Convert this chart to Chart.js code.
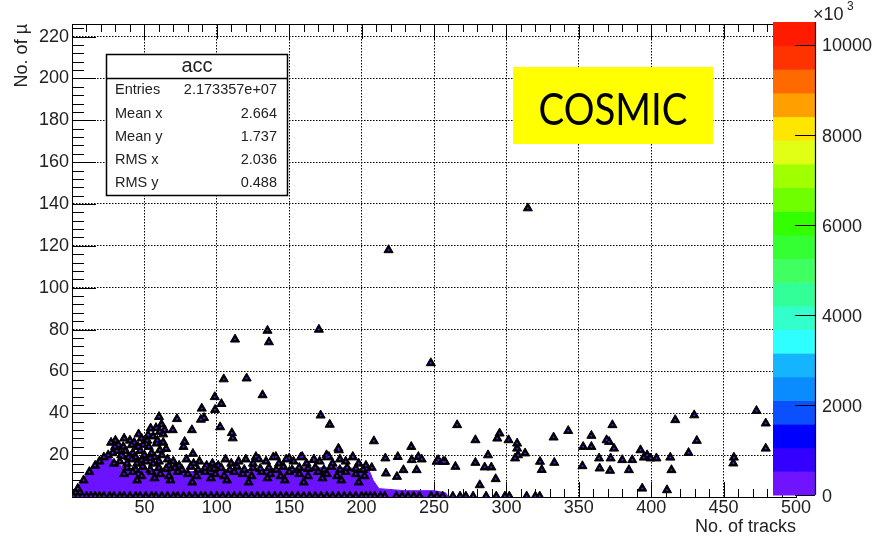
<!DOCTYPE html>
<html>
<head>
<meta charset="utf-8">
<script src="https://cdn.jsdelivr.net/npm/chart.js@4/dist/chart.umd.min.js"></script>
<style>html,body{margin:0;padding:0;background:#fff}</style>
</head>
<body>
<canvas id="c" width="891" height="541"></canvas>
<script>
/* acc: No. of mu vs No. of tracks, COSMIC */

const FONT = '"Liberation Sans", Arial, sans-serif';

// x / y tick settings
const xTicks = { min: 0, max: 500, step: 50 };
const yTicks = { min: 0, max: 226, step: 20 };

// occupied bins (triangle markers)
const trackX = [
    // isolated high ones
    314.8, 218.6, 247.8, 135.0, 136.0, 170.5, 112.6, 104.8, 120.6, 131.6, 171.7, 178.0, 208.5, 234.3,
    // middle cluster
    98.6, 103.2, 98.8, 89.6, 91.2, 89.0, 102.3, 110.4, 111.0, 82.8, 77.8, 77.0, 83.5, 72.5,
    69.6, 60.1, 61.8, 60.6, 54.3, 52.6, 48.0, 58.4, 60.6, 45.7, 41.2, 32.0, 29.7, 35.4,
    // dense blob on the left
    28, 31, 34, 37, 39, 42, 44, 47, 50, 53, 55, 57, 59, 63, 65, 62, 51, 45, 38, 33, 56, 66, 25, 22, 19,
    4, 8, 12, 16,
    27, 30, 36, 40, 43, 46, 49, 52, 56, 58, 63, 64, 35, 41, 48, 54, 60, 67, 29,
    // top of the band
    70, 74, 79, 84, 88, 93, 97, 101, 106, 110, 115, 120, 125, 129, 134, 139, 143, 148, 153, 158,
    162, 167, 171, 176, 180, 185, 189, 194, 198, 203, 207,
    184.0, 175.8, 193.9, 216.4, 225.0, 239.2, 234.6, 241.5, 251.8, 257.6, 228.9, 224.4, 238.0,
    216.8, 159.0, 140.8, 150.0, 167.1, 177.4, 127.0, 184.3,
    // inside the band
    38, 44, 49, 54, 60, 65, 71, 76, 82, 87, 92, 98, 103, 109, 114, 119, 125, 130, 136, 141,
    146, 152, 157, 163, 168, 174, 179, 185, 190, 196, 201,
    36, 42, 48, 55, 61, 67, 73, 80, 86, 92, 99, 105, 112, 118, 124, 131, 137, 144, 150, 157,
    163, 170, 176, 183, 189, 196, 202,
    45, 57, 68, 83, 96, 107, 122, 135, 147, 160, 173, 186, 198,
    // 250 - 375
    266, 278.6, 295.3, 293.7, 301.5, 307.4, 307.4, 312.9, 306, 308, 287.3, 285, 289.6, 278.6,
    264.8, 256.4, 252.9, 292.6, 281.6, 323.2, 324.4, 333.1, 332.6, 342.7, 353, 358.7, 358.7,
    373.2, 369.2, 374.3, 364, 372, 364.4, 371.6, 352.5,
    // 370 - 480
    370.9, 380, 386.9, 384.6, 392.6, 397.2, 394.9, 403.6, 399.5, 413.2, 414, 416.6, 429.7,
    431.5, 425.8, 457.1, 456.7, 472.7, 479.1, 479.1, 393.8, 410.9,
    // lowest row
    1, 4, 7, 10, 13, 16, 19, 22, 26, 29, 33, 36, 40, 44, 47, 51, 55, 58, 62, 66, 70, 73, 77, 81,
    85, 89, 92, 96, 100, 104, 108, 112, 116, 120, 124, 128, 132, 136, 140, 144, 148, 152, 156,
    160, 164, 168, 172, 176, 180, 184, 188, 192, 196, 200, 203, 206, 209, 213, 216, 224, 228,
    232, 236, 240, 248, 252, 256, 263, 268, 272, 277, 286, 293, 299, 302, 314, 320, 323
];
const muonY = [
    138, 118, 64, 79.5, 74, 80, 75.3, 56.3, 56.7, 48.7, 39, 34.6, 26.7, 24,
    47.8, 44.5, 41.7, 42.3, 37.8, 37.0, 33.4, 30.6, 28.1, 32.0, 26.4, 24.0, 20.7, 37.3,
    32.0, 38.3, 34.7, 31.2, 32.8, 29.6, 28.0, 25.6, 22.4, 24.0, 24.8, 24.8, 24.0, 24.0,
    21, 22, 20, 22, 19, 21, 19, 22, 20, 24, 21, 19, 27, 26, 23, 20, 17, 16, 16, 17, 16, 18, 20, 19, 17,
    4, 8, 12, 15,
    26, 27, 28, 27, 26, 30, 25, 27, 29, 33, 30, 32, 19.5, 18, 17.5, 18.5, 17, 15, 16,
    17, 15, 18, 16, 17, 15, 16, 15, 18, 16, 17, 18, 16, 18, 17, 19, 16, 18, 17, 19,
    16, 18, 17, 19, 16, 18, 17, 19, 16, 15, 14,
    23.2, 20, 19.2, 18.5, 19.2, 19.2, 17.7, 18, 16.9, 16.9, 12.9, 9.7, 12.9,
    11.3, 19.2, 19.2, 18.5, 17.7, 19.2, 19.2, 22.4,
    14, 13, 14.5, 13, 14, 13.5, 14, 13, 14.5, 13, 14, 13.5, 14, 13, 14.5, 13, 14, 13.5, 14, 13,
    14.5, 13, 14, 13.5, 14, 13, 14.5, 13, 14, 13.5, 13,
    11, 12, 10, 12, 11, 10, 12, 11, 10, 12, 11, 10, 12, 11, 10, 12, 11, 10, 12, 11,
    10, 12, 11, 10, 12, 11, 10,
    8, 9, 8, 7, 9, 8, 7, 9, 8, 7, 9, 8, 7,
    34.4, 27.2, 30.4, 28, 27.2, 25.6, 23.2, 20.9, 18.5, 20, 20, 14.2, 14.2, 16.4,
    14.5, 16.9, 17.7, 8.6, 5.7, 16.9, 13, 16.4, 28.5, 31.6, 24, 29.3, 24,
    34.4, 27.2, 23.2, 18.5, 18.5, 13.7, 12.6, 14.8,
    26.4, 17.7, 17.7, 12.9, 22.4, 20, 18.9, 18.5, 18.5, 18.9, 12.9, 36.8, 39.1,
    26.9, 21.1, 18.9, 16.1, 41.2, 35.2, 23.2, 4.1, 3.3,
    0.3, 0.3, 0.3, 0.3, 0.3, 0.3, 0.3, 0.3, 0.3, 0.3, 0.3, 0.3, 0.3, 0.3, 0.3, 0.3, 0.3, 0.3, 0.3, 0.3, 0.3, 0.3, 0.3, 0.3,
    0.3, 0.3, 0.3, 0.3, 0.3, 0.3, 0.3, 0.3, 0.3, 0.3, 0.3, 0.3, 0.3, 0.3, 0.3, 0.3, 0.3, 0.3, 0.3,
    0.3, 0.3, 0.3, 0.3, 0.3, 0.3, 0.3, 0.3, 0.3, 0.3, 0.3, 0.3, 0.3, 0.3, 0.3, 0.3, 0.3, 0.3, 0.3,
    0.3, 0.3, 0.3, 0.3, 0.3, 0.3, 0.3, 0.3, 0.3, 0.3, 0.3, 0.3, 0.3, 0.3, 0.3, 0.3, 0.3
];

// outline of the purple (low content) filled region
const bandX = [0, 4, 9, 15, 21, 26, 31, 36, 45, 60, 80, 100, 130, 160, 190, 205, 208, 212, 230, 250, 258, 260];
const bandY = [0, 5, 10, 15, 18, 19, 16, 14, 13, 13, 12, 13, 13, 14, 14, 13, 8, 4, 3, 3, 2, 0];

// colour palette (bottom -> top) and its axis
const paletteColors = ['#7014ff', '#3300ff', '#0000ff', '#0a50ff', '#0a8cff', '#14b4ff', '#2effff',
    '#33ffcc', '#33ff99', '#40ff60', '#33ff33', '#33ff00', '#70ff00', '#a0ff00', '#e0ff14',
    '#ffe600', '#ffa000', '#ff6a00', '#ff3300', '#ff1a00'];
const zRange = { min: 0, max: 10500 };
const paletteTicks = [0, 2000, 4000, 6000, 8000, 10000];

// stats box
const statTitle = 'acc';
const statLabels = ['Entries', 'Mean x', 'Mean y', 'RMS x', 'RMS y'];
const statValues = ['2.173357e+07', '2.664', '1.737', '2.036', '0.488'];

const binColor = '#6b12ff';

const points = trackX.map((x, i) => ({ x: x, y: muonY[i] }));
const band = bandX.map((x, i) => ({ x: x, y: bandY[i] }));

const rootFrame = {
    id: 'rootFrame',
    beforeDatasetsDraw(chart) {
        const { ctx, chartArea: a, scales: { x, y } } = chart;
        ctx.save();
        ctx.strokeStyle = '#000';
        ctx.lineWidth = 1;
        ctx.beginPath();
        ctx.moveTo(a.left, a.top + 0.5);
        ctx.lineTo(a.right, a.top + 0.5);
        for (let v = xTicks.min; v <= xTicks.max; v += 10) {
            const px = Math.round(x.getPixelForValue(v)) + 0.5;
            const len = v % xTicks.step === 0 ? 15 : 8;
            ctx.moveTo(px, a.bottom); ctx.lineTo(px, a.bottom - len);
            ctx.moveTo(px, a.top); ctx.lineTo(px, a.top + len);
        }
        for (let v = yTicks.min; v <= yTicks.max; v += 4) {
            const py = Math.round(y.getPixelForValue(v)) + 0.5;
            const len = v % yTicks.step === 0 ? 24 : 12;
            ctx.moveTo(a.left, py); ctx.lineTo(a.left + len, py);
        }
        ctx.stroke();
        ctx.restore();
    },
    afterDraw(chart) {
        const { ctx, chartArea: a, scales: { z } } = chart;
        ctx.save();

        // palette
        const x0 = a.right - 23, x1 = a.right + 19;
        const bw = zRange.max / paletteColors.length;
        paletteColors.forEach((c, i) => {
            const p0 = z.getPixelForValue(i * bw);
            const p1 = z.getPixelForValue((i + 1) * bw);
            ctx.fillStyle = c;
            ctx.fillRect(x0, p1 - 2, x1 - x0, p0 - p1 + 0.5);
        });
        ctx.strokeStyle = '#000';
        ctx.lineWidth = 1.2;
        ctx.beginPath();
        ctx.moveTo(x1 + 0.5, z.top - 2);
        ctx.lineTo(x1 + 0.5, z.bottom - 2);
        z.ticks.forEach(t => {
            const py = Math.round(z.getPixelForValue(t.value)) - 1.5;
            ctx.moveTo(x1 - 20, py); ctx.lineTo(x1, py);
        });
        ctx.stroke();
        ctx.fillStyle = '#222';
        ctx.textBaseline = 'alphabetic';
        ctx.textAlign = 'left';
        ctx.font = '18px ' + FONT;
        ctx.fillText('\u00d710', x1 - 2, 20);
        ctx.font = '12px ' + FONT;
        ctx.fillText('3', x1 + 32, 10);

        // stats box
        ctx.fillStyle = '#fff';
        ctx.fillRect(106, 54, 181, 141);
        ctx.strokeStyle = '#000';
        ctx.lineWidth = 1.5;
        ctx.strokeRect(106.5, 54.5, 181, 141);
        ctx.beginPath();
        ctx.moveTo(106.5, 78.5); ctx.lineTo(287.5, 78.5);
        ctx.stroke();
        ctx.fillStyle = '#222';
        ctx.textBaseline = 'middle';
        ctx.textAlign = 'center';
        ctx.font = '20px ' + FONT;
        ctx.fillText(statTitle, 197, 66);
        ctx.font = '14.5px ' + FONT;
        const rowY = [90, 114, 137, 160, 183];
        statLabels.forEach((l, i) => {
            ctx.textAlign = 'left';
            ctx.fillText(l, 115, rowY[i]);
            ctx.textAlign = 'right';
            ctx.fillText(statValues[i], 277, rowY[i]);
        });

        // COSMIC label
        ctx.fillStyle = '#ffff00';
        ctx.fillRect(513, 67, 200, 77);
        ctx.fillStyle = '#000';
        ctx.font = '44px Lato, "Open Sans", sans-serif';
        const w = ctx.measureText('COSMIC').width;
        ctx.translate(613, 125);
        ctx.scale(149 / w, 1);
        ctx.textAlign = 'center';
        ctx.textBaseline = 'alphabetic';
        ctx.fillText('COSMIC', 0, 0);

        ctx.restore();
    }
};

const axisFont = { family: FONT, size: 18 };

new Chart(document.getElementById('c'), {
    type: 'scatter',
    data: {
        datasets: [
            {
                label: 'bin colour',
                data: points,
                pointStyle: 'circle',
                pointRadius: 1,
                pointHoverRadius: 1,
                backgroundColor: binColor,
                borderWidth: 0,
                order: 1
            },
            {
                label: 'acc',
                data: points,
                pointStyle: 'triangle',
                pointRadius: 5.3,
                pointHoverRadius: 5.3,
                backgroundColor: '#000',
                borderColor: '#000',
                borderWidth: 1,
                order: 2
            },
            {
                type: 'line',
                label: 'filled bins',
                data: band,
                fill: 'origin',
                backgroundColor: binColor,
                borderColor: binColor,
                borderWidth: 1,
                pointRadius: 0,
                tension: 0,
                order: 3
            }
        ]
    },
    options: {
        responsive: false,
        animation: false,
        devicePixelRatio: 1,
        layout: { padding: { left: 0, top: 24, right: 0, bottom: 0 } },
        plugins: {
            legend: { display: false },
            tooltip: { enabled: false }
        },
        scales: {
            x: {
                type: 'linear',
                min: xTicks.min,
                max: xTicks.max,
                ticks: {
                    stepSize: xTicks.step,
                    includeBounds: false,
                    autoSkip: false,
                    maxRotation: 0,
                    padding: 0,
                    color: '#222',
                    font: axisFont,
                    callback: v => (v === 0 ? '' : v)
                },
                grid: { color: '#000', lineWidth: 1, drawTicks: false },
                border: { display: true, color: '#000', width: 1, dash: [1.5, 1.5] },
                title: {
                    display: true,
                    text: 'No. of tracks',
                    align: 'end',
                    color: '#222',
                    font: axisFont,
                    padding: { top: 0, bottom: 3 }
                },
                afterFit(s) { s.height = 44; s.paddingLeft = 0; s.paddingRight = 0; }
            },
            y: {
                type: 'linear',
                min: yTicks.min,
                max: yTicks.max,
                ticks: {
                    stepSize: yTicks.step,
                    includeBounds: false,
                    padding: 3,
                    color: '#222',
                    font: axisFont,
                    callback: v => (v === 0 ? '' : v)
                },
                grid: { color: '#000', lineWidth: 1, drawTicks: false },
                border: { display: true, color: '#000', width: 1, dash: [1.5, 1.5] },
                title: {
                    display: true,
                    text: 'No. of \u00b5',
                    align: 'end',
                    color: '#222',
                    font: axisFont,
                    padding: { top: 11, bottom: 0 }
                },
                afterFit(s) { s.width = 72; s.paddingTop = 0; s.paddingBottom = 0; }
            },
            z: {
                type: 'linear',
                position: 'right',
                min: zRange.min,
                max: zRange.max,
                afterBuildTicks(s) { s.ticks = paletteTicks.map(v => ({ value: v })); },
                ticks: {
                    padding: 26,
                    color: '#222',
                    font: axisFont,
                    callback: v => String(v)
                },
                grid: { display: false, drawTicks: false },
                border: { display: false },
                afterFit(s) { s.width = 95; s.paddingTop = 0; s.paddingBottom = 0; }
            }
        }
    },
    plugins: [rootFrame]
});
</script>
</body>
</html>
